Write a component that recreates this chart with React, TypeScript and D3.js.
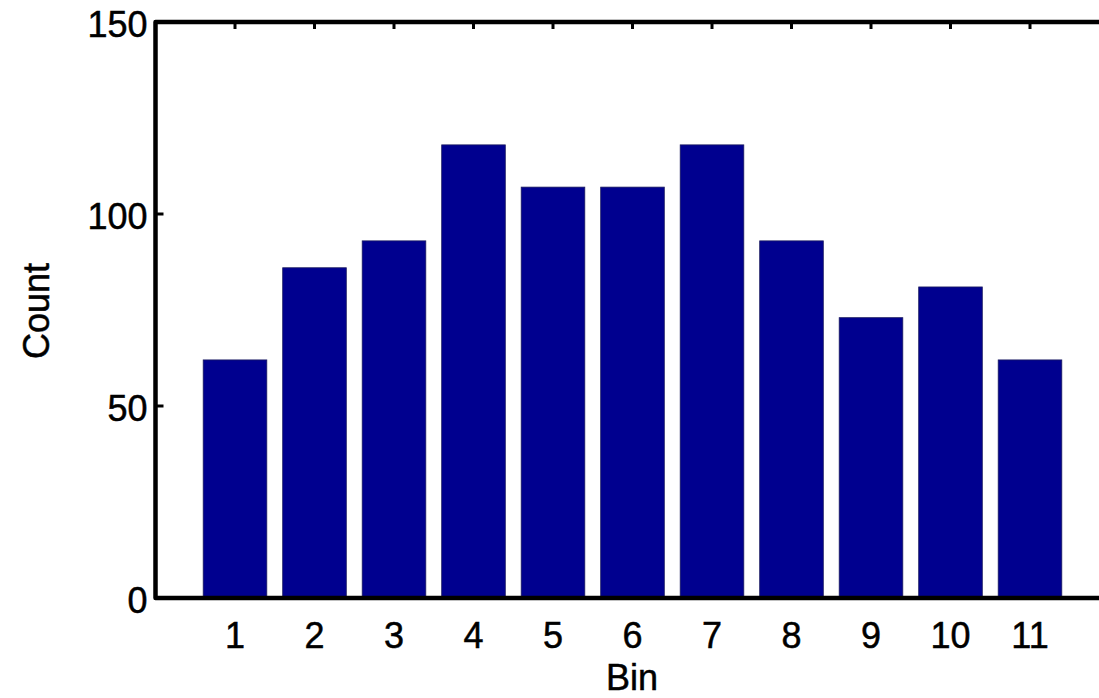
import React from "react";
import * as d3 from "d3";

const bins = [1, 2, 3, 4, 5, 6, 7, 8, 9, 10, 11];
const counts = [62, 86, 93, 118, 107, 107, 118, 93, 73, 81, 62];
const yTicks = [0, 50, 100, 150];
const xLabel = "Bin";
const yLabel = "Count";

const W = 1099;
const H = 698;

export default function App() {
  const x = d3.scaleLinear().domain([0, 12]).range([155.5, 1109.5]);
  const y = d3.scaleLinear().domain([0, 150]).range([598, 22]);
  const barW = (x(1) - x(0)) * 0.8;
  const font = "'Liberation Sans', Arial, Helvetica, sans-serif";
  const txt = { fontFamily: font, fontSize: 36, fill: "#000", stroke: "#000", strokeWidth: 0.5 };
  return (
    <svg
      width={W}
      height={H}
      style={{ position: "absolute", left: 0, top: 0, display: "block", background: "#fff" }}
    >
      {bins.map((b, i) => (
        <rect
          key={b}
          x={x(b) - barW / 2}
          y={y(counts[i])}
          width={barW}
          height={y(0) - y(counts[i])}
          fill="#00008F"
          stroke="#1a1a60"
          strokeWidth={0.8}
        />
      ))}
      {bins.map((b) => (
        <line key={"tt" + b} x1={x(b)} x2={x(b)} y1={y(150)} y2={y(150) + 7} stroke="#000" strokeWidth={3} />
      ))}
      {yTicks.map((t) => (
        <line key={"yt" + t} x1={x(0)} x2={x(0) + 8} y1={y(t)} y2={y(t)} stroke="#000" strokeWidth={3} />
      ))}
      <path
        d={`M${x(12) + 10},${y(150)} L${x(0)},${y(150)} L${x(0)},${y(0)} L${x(12) + 10},${y(0)}`}
        fill="none"
        stroke="#000"
        strokeWidth={4.5}
        strokeLinejoin="round"
      />
      {yTicks.map((t) => (
        <text key={"yl" + t} x={x(0) - 8} y={y(t) + 5} textAnchor="end" dominantBaseline="middle" {...txt}>
          {t}
        </text>
      ))}
      {bins.map((b) => (
        <text key={"xl" + b} x={x(b)} y={648} textAnchor="middle" {...txt}>
          {b}
        </text>
      ))}
      <text x={632} y={690} textAnchor="middle" {...txt}>
        {xLabel}
      </text>
      <text transform={`translate(49,311) rotate(-90)`} textAnchor="middle" {...txt}>
        {yLabel}
      </text>
    </svg>
  );
}
